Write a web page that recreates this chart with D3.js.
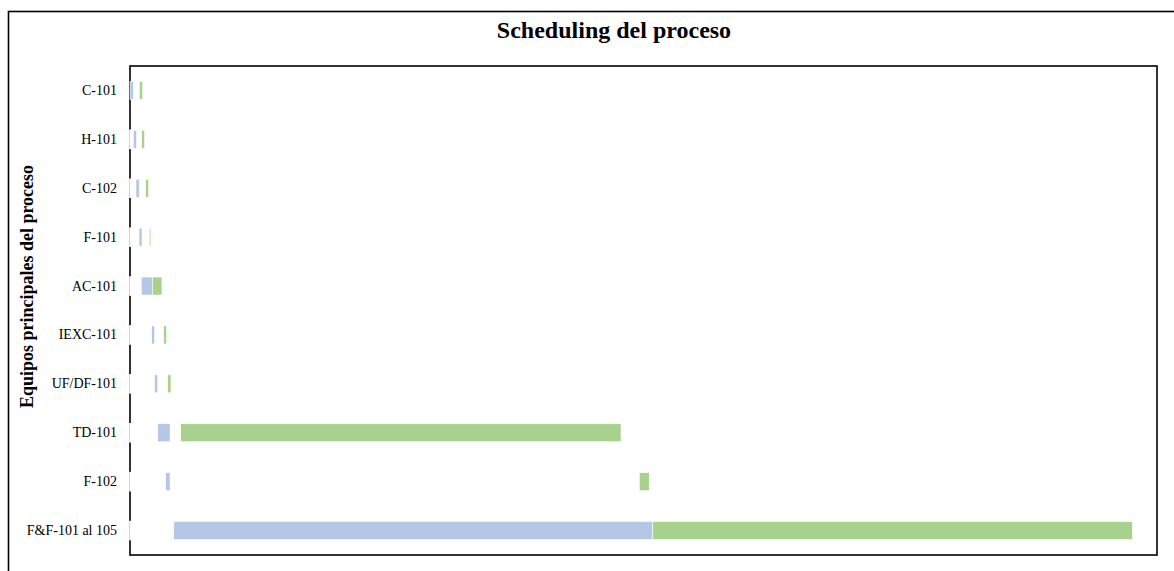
<!DOCTYPE html>
<html>
<head>
<meta charset="utf-8">
<script src="https://cdn.jsdelivr.net/npm/d3@7"></script>
<style>
  html, body { margin: 0; padding: 0; background: #fff; }
  svg { display: block; }
</style>
</head>
<body>
<svg id="chart" width="1174" height="571"></svg>
<script>
// Equipos y tiempos del scheduling (horas)
const equipos = ["C-101", "H-101", "C-102", "F-101", "AC-101", "IEXC-101", "UF/DF-101", "TD-101", "F-102", "F&F-101 al 105"];
const inicio = [0, 3.2, 5.8, 8.8, 11.0, 21.1, 23.7, 27.0, 34.8, 42.6];        // inicio de la primera etapa
const etapa1 = [3.2, 3.3, 3.2, 2.9, 10.7, 2.9, 3.3, 12.0, 4.2, 466.4];       // duración etapa 1 (azul)
const espera = [5.9, 4.9, 6.3, 7.1, 0, 8.8, 9.7, 10.4, 456.9, 0];            // espera entre etapas
const etapa2 = [3.3, 2.9, 2.9, 1.5, 9.4, 2.9, 3.2, 428.7, 9.7, 467.0];       // duración etapa 2 (verde)
const ejeMax = 1000;

const titulo = "Scheduling del proceso";
const tituloEje = "Equipos principales del proceso";

const svg = d3.select("#chart");
const W = 1174, H = 571;
const plot = { left: 130, top: 66, right: 1157, bottom: 555 };
const serif = "'Liberation Serif', 'Times New Roman', serif";

// Marco exterior del gráfico
svg.append("rect")
  .attr("x", 8.5).attr("y", 11.5)
  .attr("width", W).attr("height", H)
  .attr("fill", "#fff").attr("stroke", "#000").attr("stroke-width", 1.6);

const x = d3.scaleLinear().domain([0, ejeMax]).range([plot.left, plot.right]);
const y = d3.scaleBand().domain(equipos)
  .range([plot.top, plot.bottom])
  .paddingInner(0.632).paddingOuter(0.316);

// Área de trazado
svg.append("rect")
  .attr("x", plot.left).attr("y", plot.top)
  .attr("width", plot.right - plot.left).attr("height", plot.bottom - plot.top)
  .attr("fill", "none").attr("stroke", "#000").attr("stroke-width", 1.6);

// Segmentos apilados: desfase (blanco), etapa 1, espera, etapa 2
const filas = equipos.map((e, i) => {
  const s0 = inicio[i];
  const s1 = s0 + etapa1[i];
  const s2 = s1 + espera[i];
  const s3 = s2 + etapa2[i];
  return { equipo: e, segs: [
    { a: 0, b: s0, fill: "#ffffff" },
    { a: s0, b: s1, fill: "#b4c7e7" },
    { a: s1, b: s2, fill: "none" },
    { a: s2, b: s3, fill: "#a9d18e" }
  ]};
});

const g = svg.append("g");
filas.forEach(f => {
  g.selectAll(null)
    .data(f.segs.filter(s => s.fill !== "none" && s.b > s.a || (s.fill === "#ffffff")))
    .join("rect")
    .attr("x", s => x(s.a))
    .attr("y", y(f.equipo))
    .attr("width", s => Math.max(0, x(s.b) - x(s.a)))
    .attr("height", y.bandwidth())
    .attr("fill", s => s.fill)
    .attr("stroke", "#fff")
    .attr("stroke-width", s => s.fill === "#ffffff" ? 1.6 : 0.6);
});

// Etiquetas del eje vertical
const yAxis = d3.axisLeft(y).tickSize(0).tickPadding(13);
const ga = svg.append("g").attr("transform", `translate(${plot.left},0)`).call(yAxis);
ga.select(".domain").remove();
ga.selectAll("text")
  .attr("font-family", serif)
  .attr("font-size", 14)
  .attr("fill", "#000");

// Título
svg.append("text")
  .attr("x", 614).attr("y", 38)
  .attr("text-anchor", "middle")
  .attr("font-family", serif)
  .attr("font-weight", "bold")
  .attr("font-size", 24)
  .text(titulo);

// Título del eje
svg.append("text")
  .attr("transform", `translate(33,${(plot.top + plot.bottom) / 2 - 24}) rotate(-90)`)
  .attr("text-anchor", "middle")
  .attr("font-family", serif)
  .attr("font-weight", "bold")
  .attr("font-size", 18)
  .text(tituloEje);
</script>
</body>
</html>
